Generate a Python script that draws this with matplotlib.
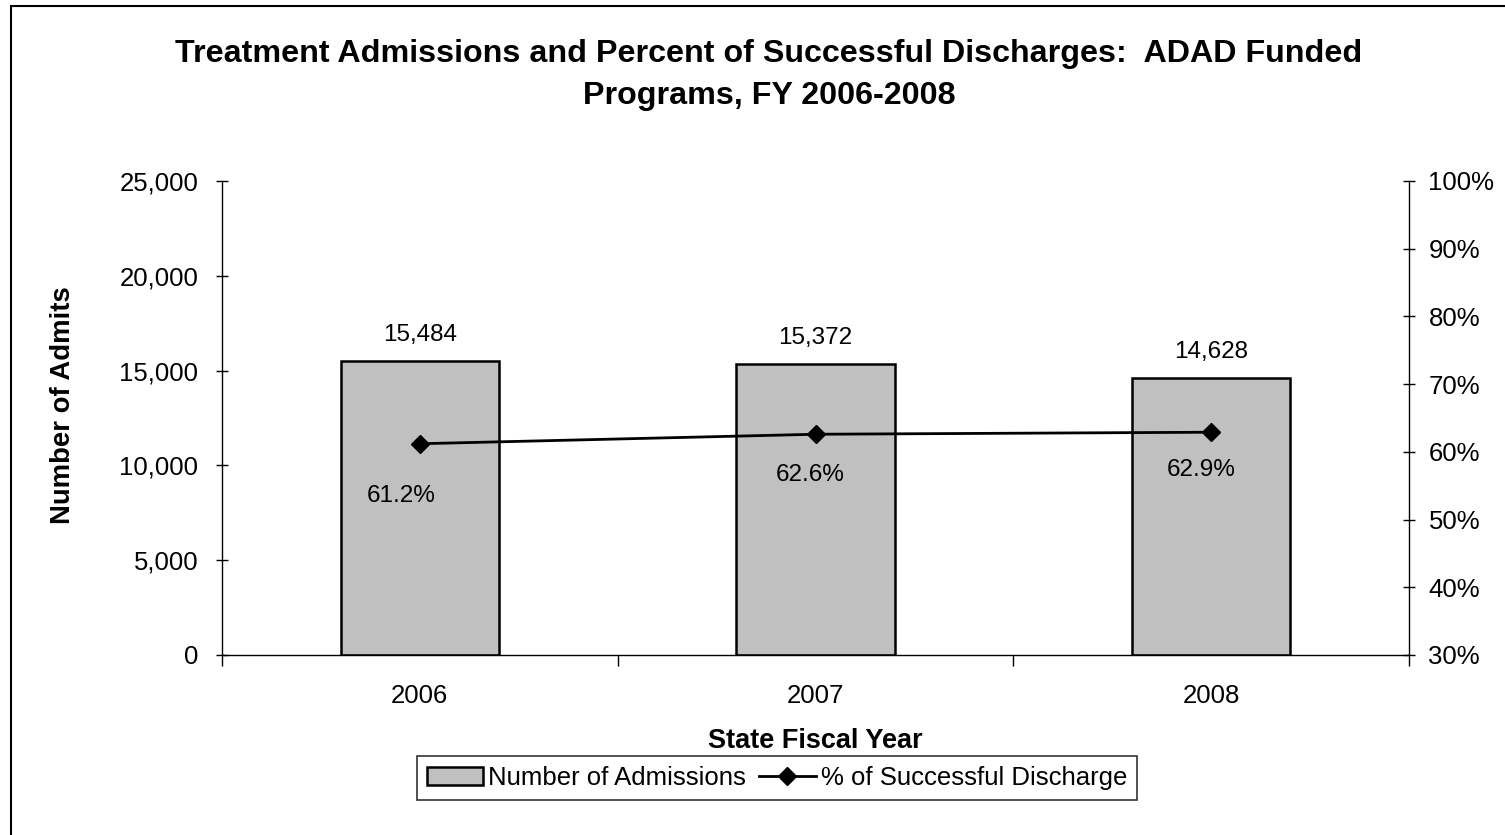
import matplotlib
matplotlib.use("Agg")
import matplotlib.pyplot as plt
from matplotlib.patches import Rectangle
from matplotlib.lines import Line2D
from matplotlib.ticker import FuncFormatter, FixedLocator

plt.rcParams['font.family'] = ['Liberation Sans', 'DejaVu Sans']

years = ["2006", "2007", "2008"]
admissions = [15484, 15372, 14628]
success_pct = [61.2, 62.6, 62.9]

# label nudges (pixels) for the percent labels
pct_offsets = [(-19, -52), (-5, -41), (-10, -38)]

fig = plt.figure(figsize=(15.05, 8.35), dpi=100)
fig.patch.set_facecolor("white")

# outer chart border (only left/top fall inside the canvas)
fig.patches.append(Rectangle((10.5 / 1505, -0.05), 1.2, 1 - 5.5 / 835 + 0.05,
                             transform=fig.transFigure, fill=False,
                             edgecolor="black", linewidth=1.5))

ax = fig.add_axes([222 / 1505, 1 - 655 / 835, (1409 - 222) / 1505, (655 - 181) / 835])
x = list(range(len(years)))
bars = ax.bar(x, admissions, width=0.4, color="#C0C0C0", edgecolor="black",
              linewidth=1.8, zorder=2)
ax.set_xlim(-0.5, len(years) - 0.5)
ax.set_ylim(0, 25000)
ax.yaxis.set_major_locator(FixedLocator([0, 5000, 10000, 15000, 20000, 25000]))
ax.yaxis.set_major_formatter(FuncFormatter(lambda v, p: f"{int(v):,}"))
ax.set_xticks(x)
ax.set_xticklabels(years)
ax.xaxis.set_minor_locator(FixedLocator([i - 0.5 for i in range(len(years) + 1)]))
ax.tick_params(axis="x", which="major", length=0, pad=21, labelsize=18.5)
ax.tick_params(axis="x", which="minor", length=8, width=1, direction="out")
ax.tick_params(axis="y", length=8, width=1, direction="inout", labelsize=18.5, pad=13)
for s in ["top", "right"]:
    ax.spines[s].set_visible(False)
for s in ["left", "bottom"]:
    ax.spines[s].set_linewidth(1)

for i, v in enumerate(admissions):
    ax.annotate(f"{v:,}", (i, v), xytext=(0, 26), textcoords="offset pixels",
                ha="center", va="center", fontsize=17.5)

ax2 = ax.twinx()
ax2.set_ylim(30, 100)
ax2.yaxis.set_major_locator(FixedLocator(list(range(30, 101, 10))))
ax2.yaxis.set_major_formatter(FuncFormatter(lambda v, p: f"{int(v)}%"))
ax2.tick_params(axis="y", length=8, width=1, direction="inout", labelsize=18.5, pad=10)
for s in ["top", "left", "bottom"]:
    ax2.spines[s].set_visible(False)
ax2.spines["right"].set_linewidth(1)
ax2.plot(x, success_pct, color="black", linewidth=2, marker="D", markersize=9,
         zorder=3)
for i, v in enumerate(success_pct):
    dx, dy = pct_offsets[i]
    ax2.annotate(f"{v:.1f}%", (i, v), xytext=(dx, dy), textcoords="offset pixels",
                 ha="center", va="center", fontsize=17.5)

ax.set_xlabel("State Fiscal Year", fontsize=19.5, fontweight="bold", va="center")
ax.xaxis.set_label_coords(0.5, (655 - 741) / 474)
ax.set_ylabel("Number of Admits", fontsize=19.8, fontweight="bold", va="center")
ax.yaxis.set_label_coords((63 - 222) / 1187, (655 - 405) / 474)

fig.text(769 / 1505, 1 - 75 / 835,
         "Treatment Admissions and Percent of Successful Discharges:  ADAD Funded\nPrograms, FY 2006-2008",
         ha="center", va="center", fontsize=23.2, fontweight="bold", linespacing=1.52)

handles = [Rectangle((0, 0), 1, 1, facecolor="#C0C0C0", edgecolor="black", linewidth=1.8),
           Line2D([0], [0], color="black", linewidth=2, marker="D", markersize=9)]
leg = fig.legend(handles, ["Number of Admissions", "% of Successful Discharge"],
                 loc="center", bbox_to_anchor=(777 / 1505, 1 - 778 / 835), ncol=2,
                 fontsize=18.5, frameon=True, fancybox=False, edgecolor="black",
                 handlelength=2.2, handletextpad=0.2, columnspacing=0.5,
                 borderpad=0.4, handleheight=0.7)
leg.get_frame().set_linewidth(1.2)

fig.savefig("out.png", dpi=100)
